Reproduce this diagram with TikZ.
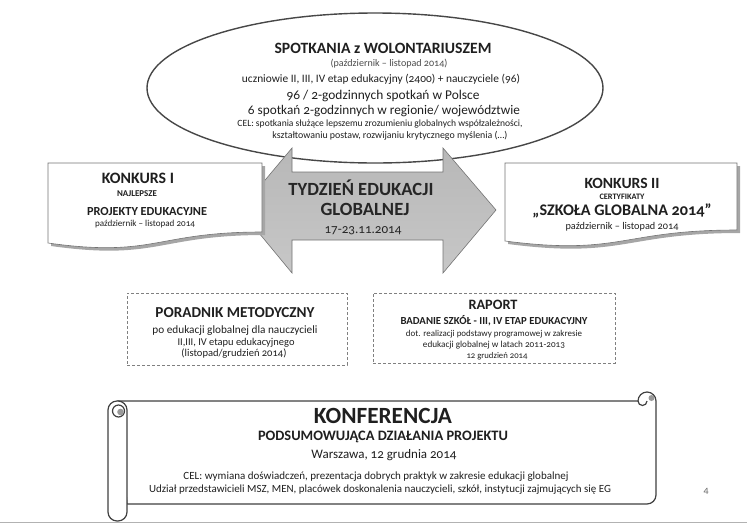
\documentclass[tikz,border=0pt]{standalone}
\usepackage{fontspec}
\setmainfont{Carlito}[Numbers=OldStyle]
\usetikzlibrary{shapes.geometric}
\newcommand\fitw[2]{\resizebox{#1pt}{!}{\fontsize{10}{10}\selectfont #2}}
\begin{document}
\begin{tikzpicture}[x=1pt,y=-1pt,
  txt/.style={inner sep=0pt, text=black!88, anchor=center},
  docshape/.style={draw=black!55, line width=0.6pt, fill=white},
  docshadow/.style={fill=black!35, draw=none},
  dashbox/.style={draw=black!50, line width=0.6pt, dash pattern=on 3pt off 2pt, inner sep=0pt},
  scrollline/.style={draw=black!75, line width=1.2pt, fill=white}]
\useasboundingbox (0,0) rectangle (747,523);

% ellipse
\node[ellipse, draw=black!72, line width=1.4pt, fill=white, minimum width=456pt, minimum height=150pt, inner sep=0pt] (spot) at (375,88) {};
\node[txt] (s1) at (383,48) {\fitw{217}{\bfseries SPOTKANIA z WOLONTARIUSZEM}};
\node[txt, text=black!70] (s2) at (389,64) {\fitw{117}{(październik – listopad 2014)}};
\node[txt] (s3) at (381,79) {\fitw{278}{uczniowie  II, III, IV etap edukacyjny (2400) + nauczyciele (96)}};
\node[txt] (s4) at (383,96) {\fitw{193}{96 / 2-godzinnych spotkań w Polsce}};
\node[txt] (s5) at (384,111) {\fitw{272}{6 spotkań 2-godzinnych w regionie/ województwie}};
\node[txt] (s6) at (380,124) {\fitw{285}{CEL: spotkania służące lepszemu zrozumieniu globalnych współzależności,}};
\node[txt] (s7) at (390,136) {\fitw{235}{kształtowaniu postaw, rozwijaniu krytycznego myślenia (…)}};

% double arrow
\path[draw=black!55, line width=0.6pt, top color=black!28, middle color=black!42, bottom color=black!22]
  (240,210) -- (292,148) -- (292,172) -- (443,172) -- (443,148) -- (496,210)
  -- (443,273) -- (443,240) -- (292,240) -- (292,273) -- cycle;
\node[txt, text=black!85] (a1) at (361,188) {\fitw{145}{\bfseries TYDZIEŃ EDUKACJI}};
\node[txt, text=black!85] (a2) at (365,209) {\fitw{89}{\bfseries GLOBALNEJ}};
\node[txt, text=black!85] (a3) at (363,231) {\fitw{77}{17-23.11.2014}};

% Konkurs I
\path[docshadow] (51,166) -- (265,166) -- (265,235) .. controls (158,235) and (158,261) .. (51,246) -- cycle;
\path[docshape] (48,163) -- (262,163) -- (262,232) .. controls (155,232) and (155,258) .. (48,243) -- cycle;
\node[txt] (k1) at (138,178) {\fitw{72}{\bfseries KONKURS I}};
\node[txt] (k2) at (137,194) {\fitw{40}{\bfseries NAJLEPSZE}};
\node[txt] (k3) at (147,211) {\fitw{120}{\bfseries PROJEKTY EDUKACYJNE}};
\node[txt] (k4) at (145,224) {\fitw{100}{październik – listopad 2014}};

% Konkurs II
\path[docshadow] (508,166) -- (740,166) -- (740,233) .. controls (624,233) and (624,259) .. (508,244) -- cycle;
\path[docshape] (505,163) -- (737,163) -- (737,230) .. controls (621,230) and (621,256) .. (505,241) -- cycle;
\node[txt] (c1) at (622,183) {\fitw{75}{\bfseries KONKURS II}};
\node[txt] (c2) at (622,197) {\fitw{45}{\bfseries CERTYFIKATY}};
\node[txt] (c3) at (622,211) {\fitw{179}{\bfseries „SZKOŁA GLOBALNA 2014”}};
\node[txt] (c4) at (622,227) {\fitw{113}{październik – listopad 2014}};

% Poradnik
\node[dashbox, minimum width=220pt, minimum height=72pt] (por) at (237,329) {};
\node[txt] (p1) at (235,313) {\fitw{159}{\bfseries PORADNIK METODYCZNY}};
\node[txt] (p2) at (235,331) {\fitw{165}{po edukacji  globalnej dla nauczycieli}};
\node[txt] (p3) at (236,343) {\fitw{117}{II,III, IV etapu edukacyjnego}};
\node[txt] (p4) at (234,354) {\fitw{105}{(listopad/grudzień 2014)}};

% Raport
\node[dashbox, minimum width=242pt, minimum height=70pt] (rap) at (494,328) {};
\node[txt] (r1) at (493,305) {\fitw{49}{\bfseries RAPORT}};
\node[txt] (r2) at (494,321) {\fitw{187}{\bfseries BADANIE  SZKÓŁ  - III, IV ETAP EDUKACYJNY}};
\node[txt] (r3) at (494,334) {\fitw{176}{dot.  realizacji  podstawy  programowej  w zakresie}};
\node[txt] (r4) at (494,345) {\fitw{142}{edukacji globalnej  w latach  2011-2013}};
\node[txt] (r5) at (497,356) {\fitw{61}{12 grudzień 2014}};

% scroll
\path[scrollline] (118,401) -- (638,401) arc[start angle=180, end angle=360, radius=9] -- (656,495) arc[start angle=0, end angle=90, radius=9] -- (127,504) -- cycle;
\path[scrollline] (647,401) arc[start angle=0, end angle=180, radius=4.5];
\path[fill=black!40] (651.5,398) circle[radius=3];
\path[scrollline, rounded corners=9pt] (108,401) rectangle (127,521);
\path[draw=black!75, line width=1.2pt, fill=white] (118.5,411) circle[radius=6];
\path[fill=black!40] (120.5,412) circle[radius=3.3];
\node[txt] (f1) at (383,416) {\fitw{138}{\bfseries KONFERENCJA}};
\node[txt] (f2) at (383,437) {\fitw{250}{\bfseries PODSUMOWUJĄCA DZIAŁANIA PROJEKTU}};
\node[txt] (f3) at (384,455) {\fitw{145}{Warszawa, 12 grudnia 2014}};
\node[txt] (f4) at (376,477) {\fitw{385}{CEL: wymiana doświadczeń, prezentacja dobrych praktyk w zakresie edukacji globalnej}};
\node[txt] (f5) at (380,490) {\fitw{462}{Udział przedstawicieli MSZ, MEN, placówek doskonalenia nauczycieli, szkół, instytucji zajmujących się EG}};

\node[txt, text=black!60] (pg) at (706,491) {\fitw{5}{4}};
\draw[black!30, line width=0.8pt] (0,522.5) -- (747,522.5);
\end{tikzpicture}
\end{document}
